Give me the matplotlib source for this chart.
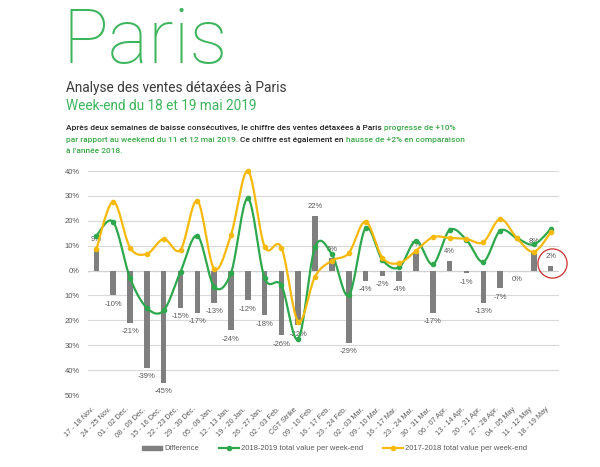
import matplotlib.pyplot as plt
import numpy as np
from matplotlib.ticker import FuncFormatter

weeks = ["17 - 18 Nov.", "24 - 25 Nov.", "01 - 02 Dec.", "08 - 09 Dec.", "15 - 16 Dec.",
         "22 - 23 Dec.", "29 - 30 Dec.", "05 - 06 Jan.", "12 - 13 Jan.", "19 - 20 Jan.",
         "26 - 27 Jan.", "02 - 03 Feb.", "CGT Strike", "09 - 10 Feb.", "16 - 17 Feb.",
         "23 - 24 Feb.", "02 - 03 Mar.", "09 - 10 Mar.", "16 - 17 Mar.", "23 - 24 Mar.",
         "30 - 31 Mar.", "06 - 07 Apr.", "13 - 14 Apr.", "20 - 21 Apr.", "27 - 28 Apr.",
         "04 - 05 May", "11 - 12 May", "18 - 19 May"]

# values in %
difference = [9, -10, -21, -39, -45, -15, -17, -13, -24, -12, -18, -26, -22, 22,
              5, -29, -4, -2, -4, 7, -17, 4, -1, -13, -7, 0, 8, 2]
v2018_2019 = [14, 19.5, -3, -15, -16, -0.5, 14, -6.5, -1, 29, -3, -6, -27.5, 9.5,
              6.5, -10, 17, 4.3, 1.3, 12, 2.5, 16.3, 12.3, 3.5, 16, 13, 10.5, 16.6]
v2017_2018 = [8.7, 27.7, 9.2, 6.7, 12.7, 8.3, 28, 0.7, 14.3, 40, 9.6, 9.2, -20.5, -2.4,
              4, 7, 19.7, 5.2, 3, 8, 13.4, 13.1, 12.7, 11.4, 20.7, 13, 7.5, 15.3]

GREEN = "#2EA84C"
YELLOW = "#F6B90A"
GRAY = "#7F7F7F"
TXT = "#595959"
TITLE_GREEN = "#3DB55C"


def smooth(y, n=20):
    # excel-like smoothed line (catmull-rom / bezier through the points)
    y = np.asarray(y, float)
    x = np.arange(len(y), dtype=float)
    pts = np.column_stack([x, y])
    ext = np.vstack([pts[0], pts, pts[-1]])
    out = []
    t = np.linspace(0, 1, n)[:, None]
    for i in range(len(pts) - 1):
        p0, p1, p2, p3 = ext[i], ext[i + 1], ext[i + 2], ext[i + 3]
        c1 = p1 + (p2 - p0) / 6
        c2 = p2 - (p3 - p1) / 6
        seg = ((1 - t) ** 3) * p1 + 3 * ((1 - t) ** 2) * t * c1 + 3 * (1 - t) * t ** 2 * c2 + t ** 3 * p2
        out.append(seg if i == 0 else seg[1:])
    out = np.vstack(out)
    return out[:, 0], out[:, 1]


fig = plt.figure(figsize=(6, 4.67), dpi=100)


def fx(px):
    return px / 600


def fy(py):
    return 1 - py / 467


# header
fig.text(fx(63), fy(63), "Paris", family="Roboto", fontweight="light", fontsize=55,
         color=TITLE_GREEN, va="baseline")
fig.text(fx(66), fy(92), "Analyse des ventes détaxées à Paris", family="Roboto",
         fontsize=9.8, color="#3A3A3A", va="baseline")
fig.text(fx(66), fy(110), "Week-end du 18 et 19 mai 2019", family="Roboto",
         fontsize=9.8, color=TITLE_GREEN, va="baseline")

para = [
    [("Après deux semaines de baisse consécutives, le chiffre des ventes détaxées à Paris", "#222222"),
     ("progresse de +10%", "#3AAA4A")],
    [("par rapport au weekend du 11 et 12 mai 2019.", "#3AAA4A"),
     ("Ce chiffre est également en", "#222222"),
     ("hausse de +2% en comparaison", "#3AAA4A")],
    [("à l'année 2018.", "#3AAA4A")],
]
for k, line in enumerate(para):
    prev = None
    for s, c in line:
        kw = dict(family="Roboto", fontsize=6.05, fontweight="medium", color=c,
                  va="bottom", ha="left")
        if prev is None:
            prev = fig.text(fx(66), fy(131 + k * 11.5), s, **kw)
        else:
            prev = fig.add_artist(plt.Annotation(s, xy=(1, 0), xycoords=prev,
                                                 xytext=(1.5, 0), textcoords="offset points", **kw))

# chart
ax = fig.add_axes([fx(88), fy(395), fx(559) - fx(88), fy(171) - fy(395)])
x = np.arange(len(weeks))

ax.set_ylim(-50, 40)
ax.set_xlim(-0.5, len(weeks) - 0.5)
ax.set_yticks(np.arange(-50, 41, 10))
ax.yaxis.set_major_formatter(FuncFormatter(lambda v, p: "%d%%" % abs(v)))
ax.grid(axis="y", color="#D9D9D9", linewidth=0.8)
ax.set_axisbelow(True)
for sp in ax.spines.values():
    sp.set_visible(False)
ax.tick_params(axis="y", length=0, labelsize=5.5, labelcolor=TXT, pad=6)
ax.set_xticks(x)
ax.set_xticklabels(weeks, rotation=45, ha="right", va="top")
ax.tick_params(axis="x", length=0, labelsize=5.2, labelcolor=TXT, pad=8)
for lab in ax.get_xticklabels() + ax.get_yticklabels():
    lab.set_family("Liberation Sans")

ax.axhline(0, color="#D0D0D0", linewidth=0.8, zorder=1)
ax.vlines(np.arange(len(weeks) + 1) - 0.5, -0.7, 0, color="#D0D0D0", linewidth=0.7, zorder=1)

bars = ax.bar(x, difference, width=0.33, color=GRAY, zorder=2, label="Difference")
for xi, d in zip(x, difference):
    off = 6.5 if d > 0 else -6.5
    ax.annotate("%d%%" % d, (xi, d), xytext=(0, off), textcoords="offset points",
                ha="center", va="center", fontsize=5.5, color=TXT,
                family="Liberation Sans", zorder=3)

sx, sy = smooth(v2018_2019)
ax.plot(sx, sy, color=GREEN, linewidth=1.6, zorder=4)
ax.plot(x, v2018_2019, "o", color=GREEN, markersize=3, zorder=4)
sx, sy = smooth(v2017_2018)
ax.plot(sx, sy, color=YELLOW, linewidth=1.6, zorder=5, clip_on=False)
ax.plot(x, v2017_2018, "o", color=YELLOW, markersize=3, zorder=5, clip_on=False)

# circle around the last week
ax.plot(x[-1] + 0.1, difference[-1] + 1.2, "o", markersize=21, markerfacecolor="none",
        markeredgecolor="#C9302C", markeredgewidth=0.9, zorder=6, clip_on=False)

# legend
h1 = plt.Rectangle((0, 0), 1, 1, color=GRAY)
h2 = plt.Line2D([], [], color=GREEN, linewidth=1.6, marker="o", markersize=3)
h3 = plt.Line2D([], [], color=YELLOW, linewidth=1.6, marker="o", markersize=3)
leg = fig.legend([h1, h2, h3], ["Difference", "2018-2019 total value per week-end",
                                "2017-2018 total value per week-end"],
                 loc="center", bbox_to_anchor=(fx(335), fy(449)), ncol=3, frameon=False,
                 prop={"family": "Liberation Sans", "size": 5.5}, handlelength=2.6,
                 handleheight=0.5, columnspacing=2.6, handletextpad=0.3)
for t in leg.get_texts():
    t.set_color(TXT)

fig.savefig("out.png", dpi=100)
